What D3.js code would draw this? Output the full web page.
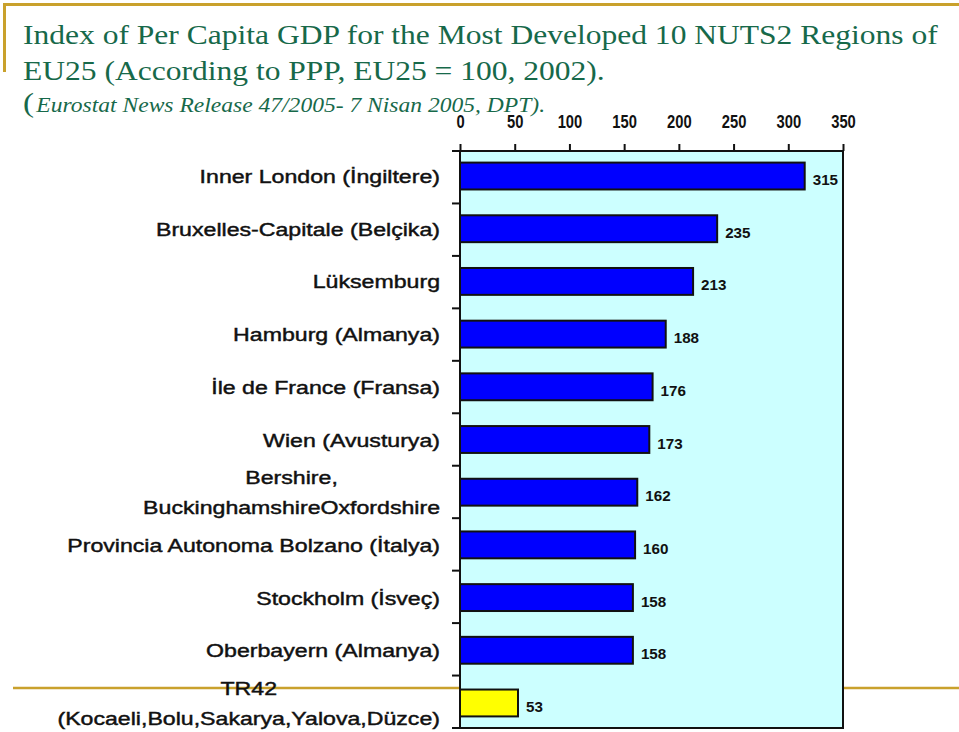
<!DOCTYPE html>
<html>
<head>
<meta charset="utf-8">
<script src="https://cdn.jsdelivr.net/npm/d3@7"></script>
<style>
  html, body { margin: 0; padding: 0; background: #ffffff; }
  svg { display: block; }
</style>
</head>
<body>
<svg id="chart" width="959" height="732"></svg>
<script>
// ---------------- DATA ----------------
const titleLines = [
  "Index of Per Capita GDP for the Most Developed 10 NUTS2 Regions of",
  "EU25 (According to PPP, EU25 = 100, 2002)."
];
const sourceText = "Eurostat News Release 47/2005- 7 Nisan 2005, DPT).";
const categories = [
  ["Inner London (İngiltere)"],
  ["Bruxelles-Capitale (Belçika)"],
  ["Lüksemburg"],
  ["Hamburg (Almanya)"],
  ["İle de France (Fransa)"],
  ["Wien (Avusturya)"],
  ["Bershire,", "BuckinghamshireOxfordshire"],
  ["Provincia Autonoma Bolzano (İtalya)"],
  ["Stockholm (İsveç)"],
  ["Oberbayern (Almanya)"],
  ["TR42", "(Kocaeli,Bolu,Sakarya,Yalova,Düzce)"]
];
const values = [315, 235, 213, 188, 176, 173, 162, 160, 158, 158, 53];
const xTicks = [0, 50, 100, 150, 200, 250, 300, 350];
const highlightCategory = "TR42";

// ---------------- LAYOUT ----------------
const svg = d3.select("#chart");
const gold = "#c9a12c";
const green = "#17694a";
const ink = "#111111";
const plot = { left: 460, top: 151, right: 843, bottom: 728 };

// decorative slide frame
svg.append("line").attr("x1", 3).attr("x2", 959).attr("y1", 4.5).attr("y2", 4.5)
  .attr("stroke", gold).attr("stroke-width", 3);
svg.append("line").attr("x1", 4.5).attr("x2", 4.5).attr("y1", 3).attr("y2", 72)
  .attr("stroke", gold).attr("stroke-width", 3);

// title
const titleG = svg.append("g");
const tBase = [44, 80];
const tTexts = titleLines.map(s => titleG.append("text")
  .attr("font-family", "Liberation Serif, serif").attr("font-size", 28)
  .attr("fill", green).text(s));
const tsx = 915 / tTexts[0].node().getComputedTextLength();
tTexts.forEach((t, i) => t.attr("transform", `translate(23,${tBase[i]}) scale(${tsx},1)`));

// source line
const src = svg.append("text").attr("font-family", "Liberation Serif, serif").attr("fill", green);
src.append("tspan").attr("font-size", 28).text("(");
src.append("tspan").attr("font-size", 20).attr("font-style", "italic").attr("dx", 2).text(sourceText);
const ws = src.node().getComputedTextLength();
src.attr("transform", `translate(23,112) scale(${520 / ws},1)`);

// scales
const x = d3.scaleLinear().domain([0, 350]).range([plot.left, plot.right]);
const y = d3.scaleBand().domain(d3.range(categories.length))
  .range([plot.top, plot.bottom]).paddingInner(0.49).paddingOuter(0.22);

// bottom gold line of the slide
svg.append("line").attr("x1", 13).attr("x2", 959).attr("y1", 688).attr("y2", 688)
  .attr("stroke", gold).attr("stroke-width", 2.5);

// plot background
svg.append("rect")
  .attr("x", plot.left).attr("y", plot.top)
  .attr("width", plot.right - plot.left).attr("height", plot.bottom - plot.top)
  .attr("fill", "#ccffff");

// bars
const isHi = i => categories[i][0] === highlightCategory;
svg.append("g").selectAll("rect").data(values).join("rect")
  .attr("x", x(0))
  .attr("y", (d, i) => y(i))
  .attr("width", d => x(d) - x(0))
  .attr("height", y.bandwidth())
  .attr("fill", (d, i) => isHi(i) ? "#ffff00" : "#0000ff")
  .attr("stroke", ink).attr("stroke-width", 2);

// value labels
svg.append("g").selectAll("text").data(values).join("text")
  .attr("transform", (d, i) => `translate(${x(d) + 8},${y(i) + y.bandwidth() / 2 + 9}) scale(0.98,1)`)
  .attr("font-family", "Liberation Sans, Arial, sans-serif")
  .attr("font-weight", "bold").attr("font-size", 15.5)
  .attr("fill", ink)
  .text(d => d);

// plot frame
svg.append("rect")
  .attr("x", plot.left).attr("y", plot.top)
  .attr("width", plot.right - plot.left).attr("height", plot.bottom - plot.top)
  .attr("fill", "none").attr("stroke", ink).attr("stroke-width", 2);

// top x axis
const xAxis = svg.append("g").attr("transform", `translate(0,${plot.top})`)
  .call(d3.axisTop(x).tickValues(xTicks).tickSize(7).tickPadding(16).tickSizeOuter(0));
xAxis.select(".domain").remove();
xAxis.selectAll("line").attr("stroke", ink).attr("stroke-width", 2);
xAxis.selectAll("text")
  .attr("font-family", "Liberation Sans, Arial, sans-serif")
  .attr("font-weight", "bold").attr("font-size", 18)
  .attr("fill", ink)
  .attr("transform", "scale(0.82,1)");

// left axis ticks at band boundaries
const step = y.step();
const bounds = d3.range(categories.length + 1).map(i => plot.top + i * (plot.bottom - plot.top) / categories.length);
svg.append("g").selectAll("line").data(bounds).join("line")
  .attr("x1", plot.left - 8).attr("x2", plot.left)
  .attr("y1", d => d).attr("y2", d => d)
  .attr("stroke", ink).attr("stroke-width", 2);

// category labels
const labG = svg.append("g");
const labelW = 373; // target width of the widest single-line label
const groups = [];
categories.forEach((lines, i) => {
  const yc = y(i) + y.bandwidth() / 2;
  const g = labG.append("g");
  const texts = lines.map(s => g.append("text")
    .attr("font-family", "Liberation Sans, Arial, sans-serif")
    .attr("font-size", 19).attr("fill", ink)
    .attr("stroke", ink).attr("stroke-width", 0.45)
    .text(s));
  groups.push({ g, texts, lines, yc });
});
const widest = d3.max(groups.filter(o => o.lines.length === 1),
  o => o.texts[0].node().getComputedTextLength());
const labelSx = labelW / widest;
groups.forEach(({ g, texts, lines, yc }) => {
  g.attr("transform", `translate(440,${yc}) scale(${labelSx},1)`);
  if (lines.length === 1) {
    texts[0].attr("text-anchor", "end").attr("x", 0).attr("y", 7);
  } else {
    const maxW = d3.max(texts, t => t.node().getComputedTextLength());
    texts.forEach((t, k) => {
      t.attr("text-anchor", "middle").attr("x", -maxW / 2)
        .attr("y", 7 + (k - (lines.length - 1) / 2) * 30);
    });
  }
});
</script>
</body>
</html>
